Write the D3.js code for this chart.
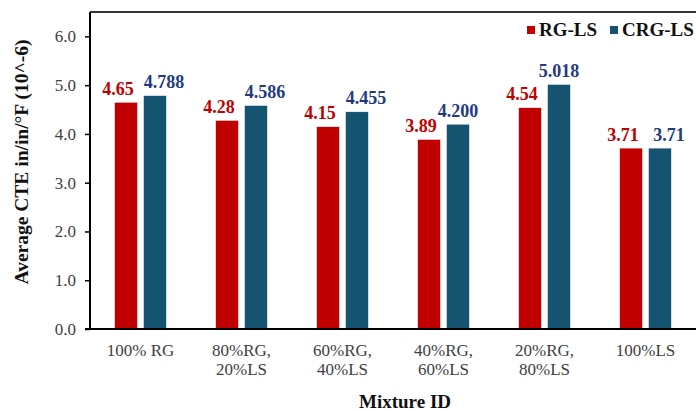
<!DOCTYPE html>
<html>
<head>
<meta charset="utf-8">
<script src="https://cdn.jsdelivr.net/npm/d3@7"></script>
<style>
  body { margin: 0; background: #fff; }
  svg { display: block; font-family: "Liberation Serif", "Times New Roman", serif; }
</style>
</head>
<body>
<svg id="chart" width="696" height="411"></svg>
<script>
const mixtures = ['100% RG', '80%RG,|20%LS', '60%RG,|40%LS', '40%RG,|60%LS', '20%RG,|80%LS', '100%LS'];
const seriesNames = ['RG-LS', 'CRG-LS'];
const rgls = [4.65, 4.28, 4.15, 3.89, 4.54, 3.71];
const crgls = [4.788, 4.586, 4.455, 4.200, 5.018, 3.71];
const labelsRG = ['4.65', '4.28', '4.15', '3.89', '4.54', '3.71'];
const labelsCRG = ['4.788', '4.586', '4.455', '4.200', '5.018', '3.71'];
const yTicks = [0, 1, 2, 3, 4, 5, 6];

const barColor = { 'RG-LS': '#c00000', 'CRG-LS': '#145470' };
const textColor = { 'RG-LS': '#c00000', 'CRG-LS': '#1f3a7f' };

const svg = d3.select('#chart');
const plotL = 90, plotR = 696, plotT = 12, plotB = 329;

const x0 = d3.scaleBand().domain(mixtures).range([plotL, plotR]).paddingInner(0.485).paddingOuter(0.2425);
const x1 = d3.scaleBand().domain(seriesNames).range([0, x0.bandwidth()]).paddingInner(0.2);
const y = d3.scaleLinear().domain([0, 6.5]).range([plotB, plotT]);

const rows = mixtures.map((m, i) => ({
  m,
  vals: [
    { s: 'RG-LS', v: rgls[i], label: labelsRG[i] },
    { s: 'CRG-LS', v: crgls[i], label: labelsCRG[i] },
  ],
}));

// label nudge: red labels sit a little left; blue ones move right when both labels are at similar height
function labelShift(d, i, row) {
  if (d.s === 'RG-LS') return -8;
  const other = row.vals[0];
  return Math.abs(y(other.v) - y(d.v)) < 15 ? 9 : 0;
}

// top frame line
svg.append('line')
  .attr('x1', plotL).attr('x2', plotR).attr('y1', plotT).attr('y2', plotT)
  .attr('stroke', '#333').attr('stroke-width', 2);

// bars
const grp = svg.append('g').selectAll('g').data(rows).join('g')
  .attr('transform', d => `translate(${x0(d.m)},0)`);

grp.selectAll('rect').data(d => d.vals).join('rect')
  .attr('x', d => x1(d.s))
  .attr('width', x1.bandwidth())
  .attr('y', d => y(d.v))
  .attr('height', d => y(0) - y(d.v))
  .attr('fill', d => barColor[d.s])
  .attr('stroke', '#fff').attr('stroke-width', 0.6);

grp.each(function (row) {
  d3.select(this).selectAll('text').data(row.vals).join('text')
    .attr('x', (d, i) => x1(d.s) + x1.bandwidth() / 2 + labelShift(d, i, row))
    .attr('y', d => y(d.v) - 7.5)
    .attr('text-anchor', 'middle')
    .attr('font-weight', 'bold').attr('font-size', 18)
    .attr('fill', d => textColor[d.s])
    .text(d => d.label);
});

// y axis
const yAxis = svg.append('g').attr('transform', `translate(${plotL},0)`)
  .call(d3.axisLeft(y).tickValues(yTicks).tickFormat(d3.format('.1f')).tickSize(5).tickPadding(9));
yAxis.select('.domain').attr('stroke', '#000').attr('stroke-width', 2).attr('d', `M0,${plotT}V${plotB}`);
yAxis.selectAll('.tick line').attr('stroke', '#000').attr('stroke-width', 1.5);
yAxis.selectAll('.tick text').attr('font-size', 17).attr('fill', '#404040')
  .attr('font-family', '"Liberation Serif", serif');

// x axis
svg.append('line')
  .attr('x1', plotL - 5).attr('x2', plotR).attr('y1', plotB).attr('y2', plotB)
  .attr('stroke', '#000').attr('stroke-width', 2);

const xl = svg.append('g').selectAll('text').data(mixtures).join('text')
  .attr('x', d => x0(d) + x0.bandwidth() / 2)
  .attr('y', 356)
  .attr('text-anchor', 'middle')
  .attr('font-size', 17).attr('fill', '#404040');
xl.selectAll('tspan').data(d => d.split('|')).join('tspan')
  .attr('x', function () { return this.parentNode.getAttribute('x'); })
  .attr('dy', (d, i) => i === 0 ? 0 : 19)
  .text(d => d);

// axis titles
svg.append('text')
  .attr('x', 405).attr('y', 408)
  .attr('text-anchor', 'middle')
  .attr('font-weight', 'bold').attr('font-size', 19).attr('fill', '#111')
  .text('Mixture ID');

svg.append('text')
  .attr('transform', 'translate(28,162) rotate(-90)')
  .attr('text-anchor', 'middle')
  .attr('font-weight', 'bold').attr('font-size', 19.5).attr('fill', '#111')
  .text('Average CTE in/in/°F (10^-6)');

// legend
const legendItems = [
  { s: 'RG-LS', x: 527 },
  { s: 'CRG-LS', x: 610 },
];
const lg = svg.append('g').selectAll('g').data(legendItems).join('g')
  .attr('transform', d => `translate(${d.x},26)`);
lg.append('rect').attr('width', 8).attr('height', 8).attr('fill', d => barColor[d.s]);
lg.append('text').attr('x', 12).attr('y', 10)
  .attr('font-weight', 'bold').attr('font-size', 19).attr('fill', '#111')
  .text(d => d.s);
</script>
</body>
</html>
